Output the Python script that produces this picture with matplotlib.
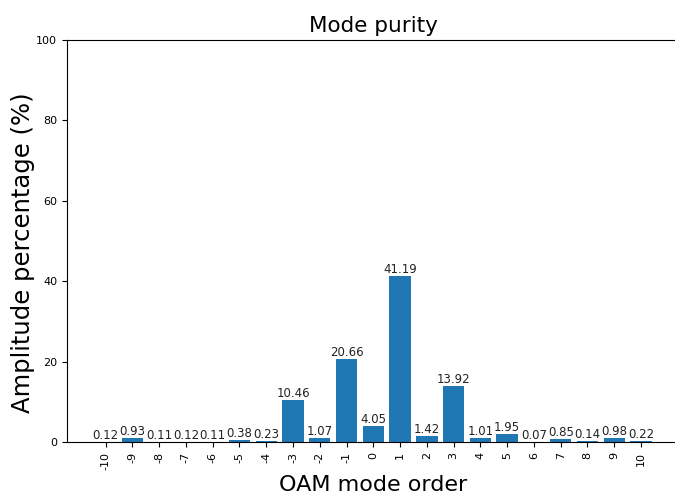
import numpy as np
import matplotlib
matplotlib.use('Agg')
import matplotlib.pyplot as plt

# --- Datos: pureza modal OAM ---
orders = list(range(-10, 11))
amplitude = [0.12, 0.93, 0.11, 0.12, 0.11, 0.38, 0.23, 10.46, 1.07, 20.66,
             4.05, 41.19, 1.42, 13.92, 1.01, 1.95, 0.07, 0.85, 0.14, 0.98, 0.22]
labels = [str(o) for o in orders]

fig = plt.figure(figsize=(6.75, 4.98), dpi=100)
ax = fig.add_axes([0.0993, 0.1124, 0.9075, 0.8073])

bars = ax.bar(orders, amplitude, color='#1f77b4', width=0.8)
for b, v in zip(bars, amplitude):
    ax.text(b.get_x() + b.get_width() / 2, v, f'{v:.2f}', ha='center', va='bottom',
            fontsize=8.5, color='#222222')

ax.set_ylim(0, 100)
ax.set_xticks(orders)
ax.set_xticklabels(labels, rotation=90, fontsize=8)
ax.tick_params(axis='y', labelsize=8)
ax.set_title('Mode purity', fontsize=15.5)
ax.set_xlabel('OAM mode order', fontsize=16)
ax.set_ylabel('Amplitude percentage (%)', fontsize=17.5)
ax.yaxis.set_label_coords(-0.053, 0.47)

fig.savefig('out.png', dpi=100)
